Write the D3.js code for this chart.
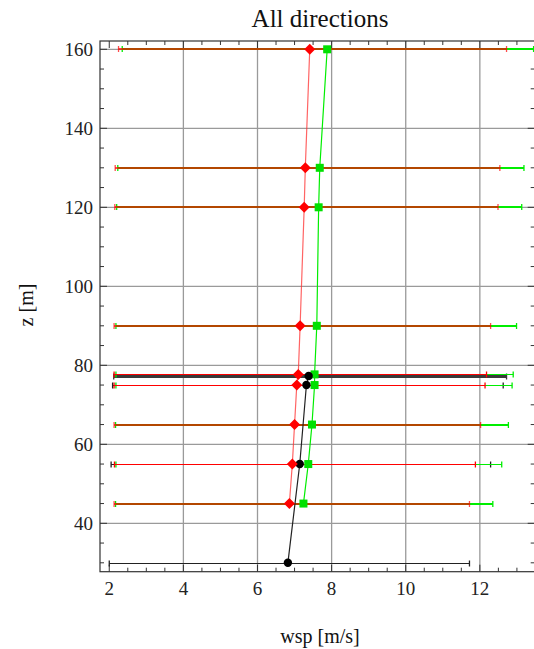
<!DOCTYPE html>
<html><head><meta charset="utf-8">
<script src="https://cdn.jsdelivr.net/npm/d3@7"></script>
<style>html,body{margin:0;padding:0;background:#fff;}svg{display:block;}</style>
</head><body><svg id="c" width="534" height="649"></svg>
<script>
const heights    = [45, 55, 65, 75, 77.7, 90, 120, 130, 160];
const redMean    = [6.86, 6.94, 7.00, 7.06, 7.10, 7.15, 7.26, 7.29, 7.41];
const redLow     = [2.13, 2.14, 2.13, 2.13, 2.13, 2.13, 2.15, 2.16, 2.25];
const redHigh    = [11.72, 11.88, 12.02, 12.14, 12.18, 12.29, 12.49, 12.54, 12.72];
const greenMean  = [7.24, 7.37, 7.47, 7.54, 7.54, 7.60, 7.65, 7.68, 7.88];
const greenLow   = [2.17, 2.18, 2.17, 2.18, 2.18, 2.18, 2.20, 2.23, 2.35];
const greenHigh  = [12.35, 12.59, 12.77, 12.87, 12.90, 12.99, 13.13, 13.19, 13.45];
const blackHeights = [30, 55, 75, 77.3];
const blackMean  = [6.82, 7.14, 7.32, 7.38];
const blackLow   = [2.00, 2.05, 2.09, 2.12];
const blackHigh  = [11.72, 12.29, 12.63, 12.72];
const xTicks = [2, 4, 6, 8, 10, 12];
const yTicks = [40, 60, 80, 100, 120, 140, 160];
const xGrid = [4, 6, 8, 10, 12];
const titleText = "All directions";
const xLabel = "wsp [m/s]";
const yLabel = "z [m]";

const svg = d3.select("#c");
const L = 100, R = 534.7, T = 41, B = 571.7;
const x = d3.scaleLinear().domain([1.75, 13.48]).range([L, R]);
const y = d3.scaleLinear().domain([27.75, 162.1]).range([B, T]);
const font = "'Liberation Serif', 'DejaVu Serif', serif";

// grid
const g = svg.append("g");
g.selectAll(".gx").data(xGrid).join("line")
  .attr("x1", d => x(d)).attr("x2", d => x(d)).attr("y1", T).attr("y2", B)
  .attr("stroke", "#9a9a9a").attr("stroke-width", 1.3);
g.selectAll(".gy").data(yTicks).join("line")
  .attr("y1", d => y(d)).attr("y2", d => y(d)).attr("x1", L).attr("x2", R)
  .attr("stroke", "#9a9a9a").attr("stroke-width", 1.3);

// frame + inward ticks
const fr = svg.append("g").attr("stroke", "#333").attr("fill", "none");
fr.append("rect").attr("x", L).attr("y", T).attr("width", R - L).attr("height", B - T).attr("stroke-width", 1.2);
const xMinor = d3.range(2, 13.6, 0.5).filter(v => !xTicks.includes(v));
const yMinor = d3.range(30, 162, 5).filter(v => !yTicks.includes(v));
function tk(vals, len, isX) {
  vals.forEach(v => {
    if (isX) {
      fr.append("line").attr("x1", x(v)).attr("x2", x(v)).attr("y1", B).attr("y2", B - len).attr("stroke-width", 1);
      fr.append("line").attr("x1", x(v)).attr("x2", x(v)).attr("y1", T).attr("y2", T + len).attr("stroke-width", 1);
    } else {
      fr.append("line").attr("y1", y(v)).attr("y2", y(v)).attr("x1", L).attr("x2", L + len).attr("stroke-width", 1);
      fr.append("line").attr("y1", y(v)).attr("y2", y(v)).attr("x1", R).attr("x2", R - len).attr("stroke-width", 1);
    }
  });
}
tk(xTicks, 7, true); tk(xMinor, 4, true);
tk(yTicks, 7, false); tk(yMinor, 4, false);

// tick labels
svg.selectAll(".xl").data(xTicks).join("text")
  .attr("x", d => x(d)).attr("y", 595).attr("text-anchor", "middle")
  .style("font-family", font).attr("font-size", 19).attr("fill", "#222").text(d => d);
svg.selectAll(".yl").data(yTicks).join("text")
  .attr("x", 93).attr("y", d => y(d) + 6.5).attr("text-anchor", "end")
  .style("font-family", font).attr("font-size", 19).attr("fill", "#222").text(d => d);

// titles
svg.append("text").attr("x", 320).attr("y", 27).attr("text-anchor", "middle")
  .style("font-family", font).attr("font-size", 25).attr("fill", "#111").text(titleText);
svg.append("text").attr("x", 320).attr("y", 643).attr("text-anchor", "middle")
  .style("font-family", font).attr("font-size", 20).attr("fill", "#111").text(xLabel);
svg.append("text").attr("transform", "translate(33,305) rotate(-90)").attr("text-anchor", "middle")
  .style("font-family", font).attr("font-size", 20).attr("fill", "#111").text(yLabel);

const thin = z => blackHeights.some(b => Math.abs(b - z) < 1.5);
const cap = 3;
function bar(sel, lo, hi, z, color, w, op) {
  const yy = Math.round(y(z)) + (w % 2 === 1 ? 0.5 : 0);
  sel.append("line").attr("x1", x(lo)).attr("x2", x(hi)).attr("y1", yy).attr("y2", yy)
    .attr("stroke", color).attr("stroke-width", w).attr("stroke-opacity", op);
  [lo, hi].forEach(v => sel.append("line").attr("x1", x(v)).attr("x2", x(v))
    .attr("y1", yy - cap).attr("y2", yy + cap).attr("stroke", color).attr("stroke-width", 1.3).attr("stroke-opacity", op));
}

// black error bars
const bl = svg.append("g");
blackHeights.forEach((z, i) => {
  const thick = i === blackHeights.length - 1;
  bar(bl, blackLow[i], blackHigh[i], z, thick ? "#3a3a3a" : "#222", thick ? 3 : 1, 1);
});
// green error bars
const gr = svg.append("g");
heights.forEach((z, i) => bar(gr, greenLow[i], greenHigh[i], z, "#00ee00", thin(z) ? 1 : 2, 1));
// red error bars
const rd = svg.append("g");
heights.forEach((z, i) => bar(rd, redLow[i], redHigh[i], z, "#ff0000", thin(z) ? 1 : 2, thin(z) ? 1 : 0.7));

// connecting lines
const line = d3.line().x(d => x(d[0])).y(d => y(d[1]));
svg.append("path").attr("d", line(heights.map((z, i) => [redMean[i], z])))
  .attr("fill", "none").attr("stroke", "#ff3030").attr("stroke-width", 1.2).attr("stroke-opacity", 0.75);
svg.append("path").attr("d", line(heights.map((z, i) => [greenMean[i], z])))
  .attr("fill", "none").attr("stroke", "#00ee00").attr("stroke-width", 1.2);
svg.append("path").attr("d", line(blackHeights.map((z, i) => [blackMean[i], z])))
  .attr("fill", "none").attr("stroke", "#222").attr("stroke-width", 1.2);

// markers
svg.selectAll(".gm").data(heights).join("rect")
  .attr("x", (d, i) => x(greenMean[i]) - 4).attr("y", d => y(d) - 4)
  .attr("width", 8).attr("height", 8).attr("fill", "#00e000");
svg.selectAll(".bm").data(blackHeights).join("circle")
  .attr("cx", (d, i) => x(blackMean[i])).attr("cy", d => y(d)).attr("r", 4.2).attr("fill", "#000");
svg.selectAll(".rm").data(heights).join("path")
  .attr("transform", (d, i) => `translate(${x(redMean[i])},${y(d)})`)
  .attr("d", "M0,-5.5L5.5,0L0,5.5L-5.5,0Z").attr("fill", "#ff0000");
</script></body></html>
